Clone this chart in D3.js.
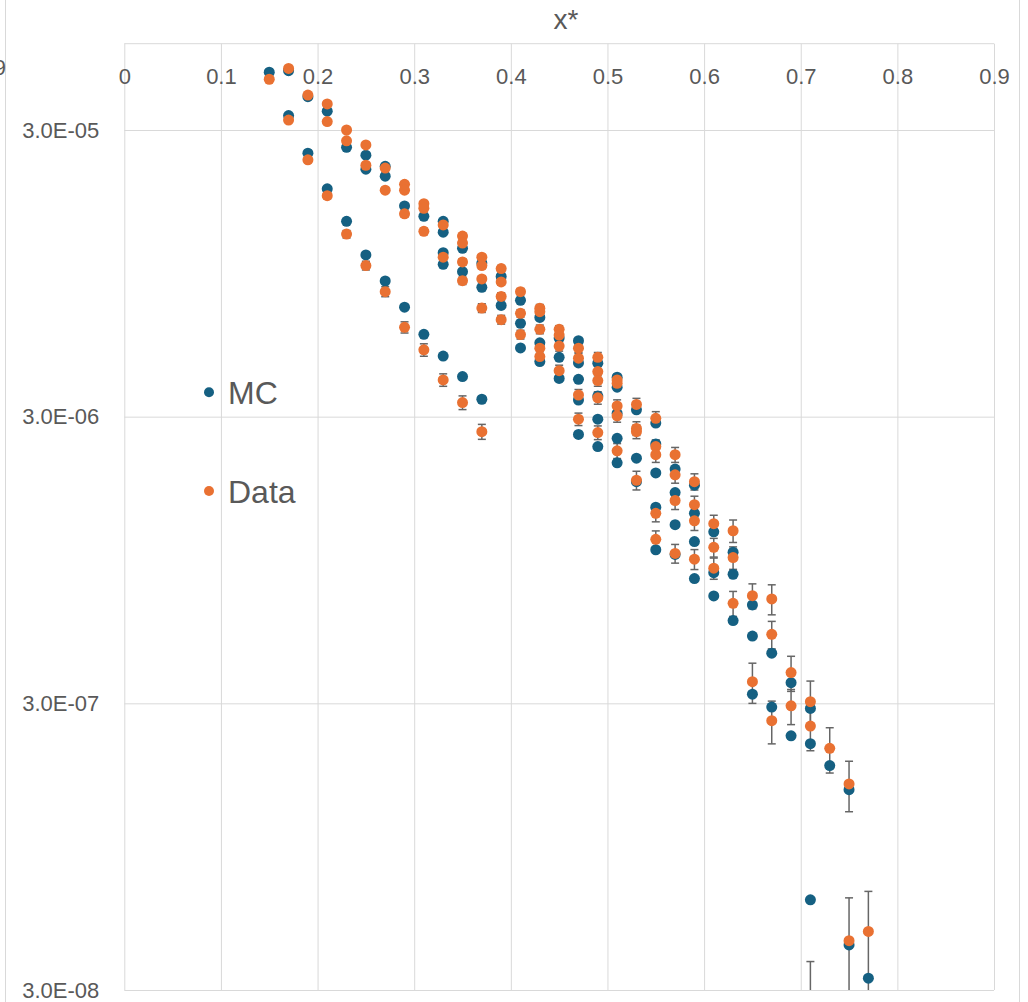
<!DOCTYPE html>
<html>
<head>
<meta charset="utf-8">
<script src="https://cdn.jsdelivr.net/npm/d3@7"></script>
<style>
  html, body { margin: 0; padding: 0; background: #ffffff; }
  svg { display: block; }
  text { font-family: "Liberation Sans", Arial, sans-serif; fill: #595959; }
</style>
</head>
<body>
<svg id="chart" width="1028" height="1002"></svg>
<script>
// ---------- data ----------
const xTicks = [0, 0.1, 0.2, 0.3, 0.4, 0.5, 0.6, 0.7, 0.8, 0.9];
const xTickLabels = ["0", "0.1", "0.2", "0.3", "0.4", "0.5", "0.6", "0.7", "0.8", "0.9"];
const yTicks = [3e-5, 3e-6, 3e-7, 3e-8];
const yTickLabels = ["3.0E-05", "3.0E-06", "3.0E-07", "3.0E-08"];
const yMin = 3e-8, yMax = 6e-5;
const xTitle = "x*";
const seriesNames = ["MC", "Data"];

// MC: [x*, value]
const mcPoints = [
  [0.15,4.77e-5],
  [0.17,4.83e-5],[0.17,3.37e-5],
  [0.19,3.92e-5],[0.19,2.49e-5],
  [0.21,3.49e-5],[0.21,1.87e-5],
  [0.23,2.61e-5],[0.23,1.44e-5],
  [0.25,2.45e-5],[0.25,2.19e-5],[0.25,1.10e-5],
  [0.27,2.24e-5],[0.27,2.07e-5],[0.27,8.92e-6],
  [0.29,1.63e-5],[0.29,7.23e-6],
  [0.31,1.50e-5],[0.31,5.81e-6],
  [0.33,1.44e-5],[0.33,1.32e-5],[0.33,1.12e-5],[0.33,1.02e-5],[0.33,4.88e-6],
  [0.35,1.16e-5],[0.35,9.61e-6],[0.35,4.14e-6],
  [0.37,1.03e-5],[0.37,8.48e-6],[0.37,3.45e-6],
  [0.39,9.25e-6],[0.39,7.33e-6],
  [0.41,7.64e-6],[0.41,6.35e-6],[0.41,5.21e-6],
  [0.43,6.66e-6],[0.43,5.43e-6],[0.43,4.67e-6],
  [0.45,5.64e-6],[0.45,4.83e-6],[0.45,4.08e-6],
  [0.47,5.52e-6],[0.47,4.62e-6],[0.47,4.05e-6],[0.47,3.43e-6],[0.47,2.60e-6],
  [0.49,4.61e-6],[0.49,3.54e-6],[0.49,2.94e-6],[0.49,2.36e-6],
  [0.51,4.12e-6],[0.51,3.80e-6],[0.51,3.08e-6],[0.51,2.52e-6],[0.51,2.07e-6],
  [0.53,3.17e-6],[0.53,2.15e-6],[0.53,1.78e-6],
  [0.55,2.85e-6],[0.55,2.41e-6],[0.55,1.91e-6],[0.55,1.45e-6],[0.55,1.03e-6],
  [0.57,1.97e-6],[0.57,1.63e-6],[0.57,1.26e-6],[0.57,9.92e-7],
  [0.59,1.73e-6],[0.59,1.38e-6],[0.59,1.10e-6],[0.59,8.17e-7],
  [0.61,1.19e-6],[0.61,8.57e-7],[0.61,7.11e-7],
  [0.63,1.01e-6],[0.63,8.46e-7],[0.63,5.83e-7],
  [0.65,6.61e-7],[0.65,5.15e-7],[0.65,3.23e-7],
  [0.67,4.49e-7],[0.67,2.91e-7],
  [0.69,3.54e-7],[0.69,2.31e-7],
  [0.71,2.88e-7],[0.71,2.17e-7],[0.71,6.19e-8],
  [0.73,1.82e-7],
  [0.75,1.50e-7],[0.75,4.31e-8],
  [0.77,3.30e-8]
];

// Data: [x*, value, relative error]
const dataPoints = [
  [0.15,4.51e-5,0.01],
  [0.17,4.92e-5,0.01],[0.17,3.25e-5,0.015],
  [0.19,3.97e-5,0.012],[0.19,2.36e-5,0.02],
  [0.21,3.70e-5,0.012],[0.21,3.21e-5,0.015],[0.21,1.77e-5,0.025],
  [0.23,3.00e-5,0.015],[0.23,2.75e-5,0.015],[0.23,1.30e-5,0.03],
  [0.25,2.66e-5,0.015],[0.25,2.26e-5,0.02],[0.25,1.01e-5,0.035],
  [0.27,2.21e-5,0.015],[0.27,1.85e-5,0.02],[0.27,8.19e-6,0.04],
  [0.29,1.94e-5,0.02],[0.29,1.85e-5,0.02],[0.29,1.53e-5,0.025],[0.29,6.15e-6,0.045],
  [0.31,1.66e-5,0.02],[0.31,1.60e-5,0.02],[0.31,1.33e-5,0.025],[0.31,5.13e-6,0.05],
  [0.33,1.40e-5,0.02],[0.33,1.08e-5,0.025],[0.33,4.03e-6,0.05],
  [0.35,1.28e-5,0.02],[0.35,1.21e-5,0.02],[0.35,1.04e-5,0.025],[0.35,8.94e-6,0.03],[0.35,3.36e-6,0.055],
  [0.37,1.08e-5,0.02],[0.37,1.01e-5,0.025],[0.37,9.07e-6,0.025],[0.37,7.18e-6,0.035],[0.37,2.66e-6,0.06],
  [0.39,9.86e-6,0.025],[0.39,8.85e-6,0.025],[0.39,7.88e-6,0.03],[0.39,6.54e-6,0.035],
  [0.41,8.19e-6,0.025],[0.41,6.88e-6,0.03],[0.41,5.80e-6,0.035],
  [0.43,7.17e-6,0.03],[0.43,6.97e-6,0.03],[0.43,6.05e-6,0.035],[0.43,5.20e-6,0.04],[0.43,4.86e-6,0.045],
  [0.45,6.05e-6,0.03],[0.45,5.78e-6,0.035],[0.45,5.29e-6,0.04],[0.45,4.34e-6,0.045],
  [0.47,5.20e-6,0.035],[0.47,4.80e-6,0.04],[0.47,3.57e-6,0.045],[0.47,2.94e-6,0.05],
  [0.49,4.83e-6,0.04],[0.49,4.31e-6,0.045],[0.49,4.01e-6,0.045],[0.49,3.49e-6,0.05],[0.49,2.64e-6,0.055],
  [0.51,4.03e-6,0.045],[0.51,3.92e-6,0.045],[0.51,3.27e-6,0.05],[0.51,3.02e-6,0.05],[0.51,2.28e-6,0.06],
  [0.53,3.31e-6,0.05],[0.53,2.73e-6,0.055],[0.53,2.66e-6,0.055],[0.53,1.80e-6,0.075],
  [0.55,2.96e-6,0.055],[0.55,2.36e-6,0.055],[0.55,2.21e-6,0.06],[0.55,1.38e-6,0.066],[0.55,1.12e-6,0.07],
  [0.57,2.21e-6,0.06],[0.57,1.88e-6,0.065],[0.57,1.53e-6,0.07],[0.57,1.00e-6,0.075],
  [0.59,1.78e-6,0.065],[0.59,1.48e-6,0.07],[0.59,1.30e-6,0.075],[0.59,9.55e-7,0.08],
  [0.61,1.27e-6,0.07],[0.61,1.05e-6,0.075],[0.61,8.88e-7,0.085],
  [0.63,1.20e-6,0.09],[0.63,9.67e-7,0.09],[0.63,6.70e-7,0.1],
  [0.65,7.12e-7,0.1],[0.65,3.57e-7,0.16],
  [0.67,6.94e-7,0.12],[0.67,5.22e-7,0.11],[0.67,2.61e-7,0.17],
  [0.69,3.84e-7,0.14],[0.69,2.94e-7,0.14],
  [0.71,3.04e-7,0.18],[0.71,2.50e-7,0.18],[0.71,2.6e-8,0.45],
  [0.73,2.09e-7,0.18],
  [0.75,1.57e-7,0.2],[0.75,4.46e-8,0.41],
  [0.77,4.80e-8,0.38]
];

// ---------- layout ----------
const colors = { MC: "#156082", Data: "#E97132" };
const gridColor = "#d9d9d9";
const textColor = "#595959";
const pLeft = 124.3, pRight = 994, pTop = 43.7, pBottom = 990;
const plotW = pRight - pLeft, plotH = pBottom - pTop;

const svg = d3.select("#chart");
svg.append("rect").attr("width", 1028).attr("height", 1002).attr("fill", "#fff");

// outer frame edges visible at the sides of the picture
svg.append("line").attr("x1", 5.5).attr("x2", 5.5).attr("y1", 0).attr("y2", 1002)
  .attr("stroke", gridColor).attr("stroke-width", 1);
svg.append("line").attr("x1", 1019.5).attr("x2", 1019.5).attr("y1", 0).attr("y2", 1002)
  .attr("stroke", gridColor).attr("stroke-width", 1);
// cut-off label at the far left edge
svg.append("text").attr("x", 6).attr("y", 75).attr("text-anchor", "end")
  .style("font-size", "22px").text("0.9");

const x = d3.scaleLinear().domain([0, 0.9]).range([pLeft, pRight]);
const y = d3.scaleLog().domain([yMin, yMax]).range([pBottom, pTop]);

// Y axis with horizontal gridlines
const gy = svg.append("g").attr("transform", `translate(${pLeft},0)`)
  .call(d3.axisLeft(y).tickValues(yTicks)
    .tickFormat((d, i) => yTickLabels[i])
    .tickSize(-plotW).tickPadding(25));
gy.select(".domain").remove();
gy.selectAll(".tick line").attr("stroke", gridColor).attr("stroke-width", 1);
gy.selectAll(".tick text").attr("fill", textColor)
  .style("font-size", "22px").style("font-family", "'Liberation Sans', Arial, sans-serif");

// top border line (axis maximum)
svg.append("line").attr("x1", pLeft).attr("x2", pRight).attr("y1", y(yMax)).attr("y2", y(yMax))
  .attr("stroke", gridColor).attr("stroke-width", 1);

// X axis at top with vertical gridlines, labels just inside the plot
const gx = svg.append("g").attr("transform", `translate(0,${pTop})`)
  .call(d3.axisTop(x).tickValues(xTicks)
    .tickFormat((d, i) => xTickLabels[i])
    .tickSize(-plotH));
gx.select(".domain").remove();
gx.selectAll(".tick line").attr("stroke", gridColor).attr("stroke-width", 1);
gx.selectAll(".tick text").attr("fill", textColor)
  .attr("y", 40.5).attr("dy", 0)
  .style("font-size", "22px").style("font-family", "'Liberation Sans', Arial, sans-serif");

// axis title
svg.append("text").attr("x", 566).attr("y", 29).attr("text-anchor", "middle")
  .style("font-size", "28px").text(xTitle);

// clip to plot area
svg.append("clipPath").attr("id", "plotclip")
  .append("rect").attr("x", pLeft).attr("y", pTop).attr("width", plotW).attr("height", plotH);
const plot = svg.append("g").attr("clip-path", "url(#plotclip)");

// error bars of Data
const eb = plot.append("g").attr("stroke", "#666666").attr("stroke-width", 1.5).attr("fill", "none");
const capHalf = 4;
dataPoints.forEach(d => {
  const cx = x(d[0]);
  const yHi = y(d[1] * (1 + d[2]));
  const yLo = y(Math.max(d[1] * (1 - d[2]), 1e-12));
  eb.append("line").attr("x1", cx).attr("x2", cx).attr("y1", yHi).attr("y2", yLo);
  eb.append("line").attr("x1", cx - capHalf).attr("x2", cx + capHalf).attr("y1", yHi).attr("y2", yHi);
  eb.append("line").attr("x1", cx - capHalf).attr("x2", cx + capHalf).attr("y1", yLo).attr("y2", yLo);
});

// MC markers
plot.append("g").selectAll("circle").data(mcPoints).join("circle")
  .attr("cx", d => x(d[0])).attr("cy", d => y(d[1])).attr("r", 5.5)
  .attr("fill", colors.MC);

// Data markers
plot.append("g").selectAll("circle").data(dataPoints).join("circle")
  .attr("cx", d => x(d[0])).attr("cy", d => y(d[1])).attr("r", 5.5)
  .attr("fill", colors.Data);

// legend
const legendY = [392.3, 491];
const lg = svg.append("g");
seriesNames.forEach((name, i) => {
  lg.append("circle").attr("cx", 209).attr("cy", legendY[i]).attr("r", 5)
    .attr("fill", colors[name]);
  lg.append("text").attr("x", 228).attr("y", legendY[i] + 11.5)
    .style("font-size", "32px").text(name);
});
</script>
</body>
</html>
